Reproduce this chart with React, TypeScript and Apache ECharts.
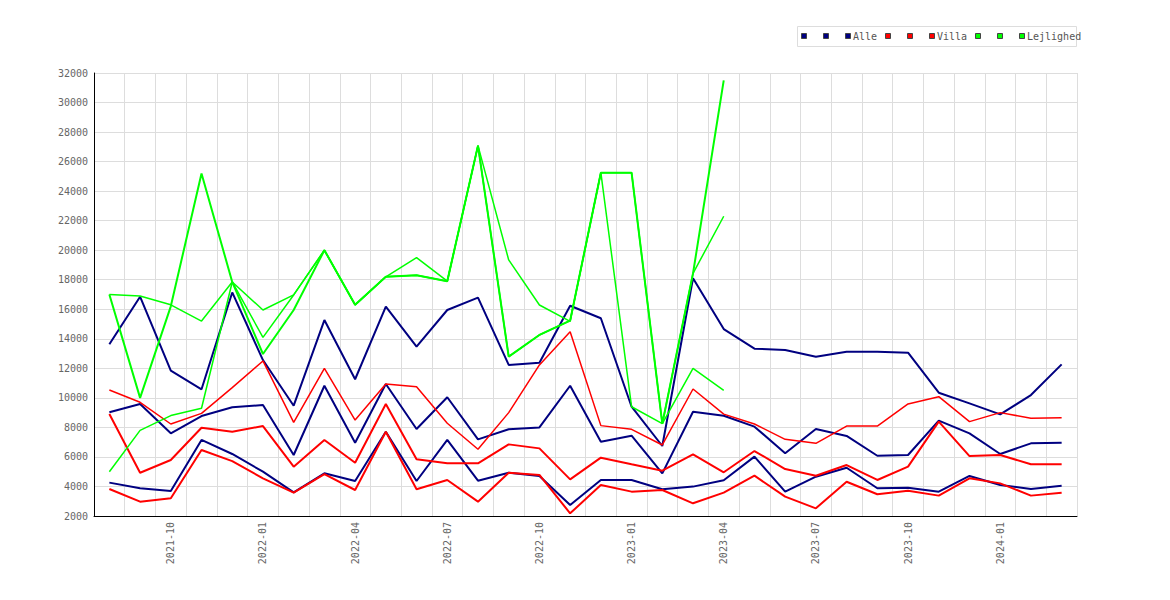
import React, { useEffect, useRef } from "react";
import * as echarts from "echarts";

const months = [
  "2021-08", "2021-09", "2021-10", "2021-11", "2021-12",
  "2022-01", "2022-02", "2022-03", "2022-04", "2022-05", "2022-06", "2022-07",
  "2022-08", "2022-09", "2022-10", "2022-11", "2022-12",
  "2023-01", "2023-02", "2023-03", "2023-04", "2023-05", "2023-06", "2023-07",
  "2023-08", "2023-09", "2023-10", "2023-11", "2023-12",
  "2024-01", "2024-02", "2024-03",
];

const alle1 = [13630, 16850, 11840, 10580, 17140, 12560, 9470, 15270, 11260, 16180, 13470, 15950, 16790, 12230, 12380, 16240, 15390, 9400, 6740, 18100, 14660, 13330, 13240, 12790, 13130, 13130, 13060, 10350, 9630, 8880, 10190, 12270];
const alle2 = [9020, 9590, 7600, 8770, 9360, 9520, 6130, 10820, 6960, 10940, 7890, 10040, 7190, 7870, 8000, 10820, 7030, 7440, 4890, 9060, 8790, 8050, 6250, 7890, 7420, 6080, 6130, 8460, 7600, 6200, 6920, 6960];
const alle3 = [4260, 3880, 3690, 7150, 6200, 5000, 3600, 4890, 4370, 7710, 4370, 7150, 4390, 4930, 4710, 2740, 4440, 4440, 3810, 3990, 4420, 6020, 3650, 4660, 5270, 3880, 3920, 3650, 4710, 4100, 3830, 4050];

const villa1 = [10530, 9700, 8230, 8950, 10690, 12500, 8340, 12000, 8500, 10940, 10760, 8280, 6520, 9000, 12230, 14480, 8120, 7870, 6810, 10600, 8900, 8230, 7190, 6920, 8090, 8090, 9590, 10080, 8390, 9000, 8620, 8660];
const villa2 = [8910, 4930, 5790, 7980, 7710, 8090, 5340, 7150, 5610, 9590, 5840, 5570, 5570, 6850, 6580, 4480, 5950, 5500, 5070, 6180, 4960, 6400, 5180, 4730, 5450, 4440, 5340, 8390, 6060, 6130, 5500, 5500];
const villa3 = [3830, 2970, 3200, 6470, 5720, 4550, 3580, 4840, 3760, 7710, 3810, 4440, 2970, 4930, 4780, 2180, 4100, 3650, 3760, 2860, 3580, 4730, 3310, 2520, 4320, 3470, 3710, 3380, 4550, 4210, 3380, 3580];

const lejl1 = [17000, 10000, 16200, 25200, 17850, 12970, 15950, 20000, 16300, 18200, 18300, 17900, 27080, 12790, 14260, 15230, 25250, 25250, 8250, 18430, 31500];
const lejl2 = [17000, 16900, 16300, 15200, 17850, 15950, 16970, 20000, 16300, 18200, 19500, 17900, 27080, 19340, 16290, 15180, 25250, 9400, 8250, 18430, 22300];
const lejl3 = [5000, 7800, 8800, 9300, 17850, 14100, 16970, 20000, 16300, 18200, 18300, 17900, 27080, 12790, 14260, 15230, 25250, 25250, 8250, 12000, 10500];

const yTicks = { min: 2000, max: 32000, interval: 2000 };

const NAVY = "#000080";
const RED = "#ff0000";
const GREEN = "#00ff00";
const FONT = '"DejaVu Sans Mono", "Liberation Mono", monospace';

function pad(arr: number[]) {
  const out: (number | null)[] = arr.slice();
  while (out.length < months.length) out.push(null);
  return out;
}

export default function App() {
  const ref = useRef<HTMLDivElement>(null);

  useEffect(() => {
    if (!ref.current) return;
    const chart = echarts.init(ref.current, null, { renderer: "svg" });

    const mk = (name: string, data: number[], color: string, width: number) => ({
      name,
      type: "line",
      data: pad(data),
      symbol: "none",
      showSymbol: false,
      connectNulls: false,
      lineStyle: { color, width },
      itemStyle: { color },
      emphasis: { disabled: true },
    });

    const legendItems = [
      { x: 801, color: NAVY },
      { x: 823, color: NAVY },
      { x: 845, color: NAVY, label: "Alle" },
      { x: 885, color: RED },
      { x: 907, color: RED },
      { x: 929, color: RED, label: "Villa" },
      { x: 975, color: GREEN },
      { x: 997, color: GREEN },
      { x: 1019, color: GREEN, label: "Lejlighed" },
    ];

    const graphics: any[] = [
      {
        type: "rect",
        shape: { x: 797.5, y: 26.5, width: 279, height: 20 },
        style: { fill: "#fff", stroke: "#dddddd", lineWidth: 1 },
        z: 10,
      },
    ];
    legendItems.forEach((it) => {
      graphics.push({
        type: "rect",
        shape: { x: it.x + 0.5, y: 33.5, width: 5, height: 5 },
        style: { fill: it.color, stroke: "#444", lineWidth: 1 },
        z: 11,
      });
      if (it.label) {
        graphics.push({
          type: "text",
          x: it.x + 8,
          y: 36.5,
          style: {
            text: it.label,
            fill: "#555",
            fontSize: 10,
            fontFamily: FONT,
            verticalAlign: "middle",
            align: "left",
          },
          z: 11,
        });
      }
    });

    chart.setOption({
      animation: false,
      textStyle: { fontFamily: FONT },
      grid: { left: 94, right: 93, top: 73, bottom: 84, containLabel: false },
      xAxis: {
        type: "category",
        data: months,
        boundaryGap: true,
        axisLine: { show: true, lineStyle: { color: "#000", width: 1 } },
        axisTick: { show: false },
        axisLabel: {
          interval: (i: number) => i % 3 === 2,
          rotate: 90,
          margin: 6,
          color: "#666666",
          fontSize: 10,
          fontFamily: FONT,
        },
        splitLine: { show: true, interval: 0, lineStyle: { color: "#dddddd", width: 1 } },
      },
      yAxis: {
        type: "value",
        min: yTicks.min,
        max: yTicks.max,
        interval: yTicks.interval,
        axisLine: { show: true, lineStyle: { color: "#000", width: 1 } },
        axisTick: { show: false },
        axisLabel: {
          margin: 6,
          color: "#666666",
          fontSize: 10,
          fontFamily: FONT,
          formatter: (v: number) => String(v),
        },
        splitLine: { show: true, lineStyle: { color: "#dddddd", width: 1 } },
      },
      series: [
        mk("Alle 1", alle1, NAVY, 2),
        mk("Alle 2", alle2, NAVY, 2),
        mk("Alle", alle3, NAVY, 2),
        mk("Villa 1", villa1, RED, 1.5),
        mk("Villa 2", villa2, RED, 2),
        mk("Villa", villa3, RED, 2),
        mk("Lejlighed 1", lejl1, GREEN, 2),
        mk("Lejlighed 2", lejl2, GREEN, 1.5),
        mk("Lejlighed", lejl3, GREEN, 1.5),
      ],
      graphic: graphics,
    });

    return () => chart.dispose();
  }, []);

  return (
    <div
      ref={ref}
      style={{ position: "absolute", left: 0, top: 0, width: 1170, height: 600, background: "#fff" }}
    />
  );
}
